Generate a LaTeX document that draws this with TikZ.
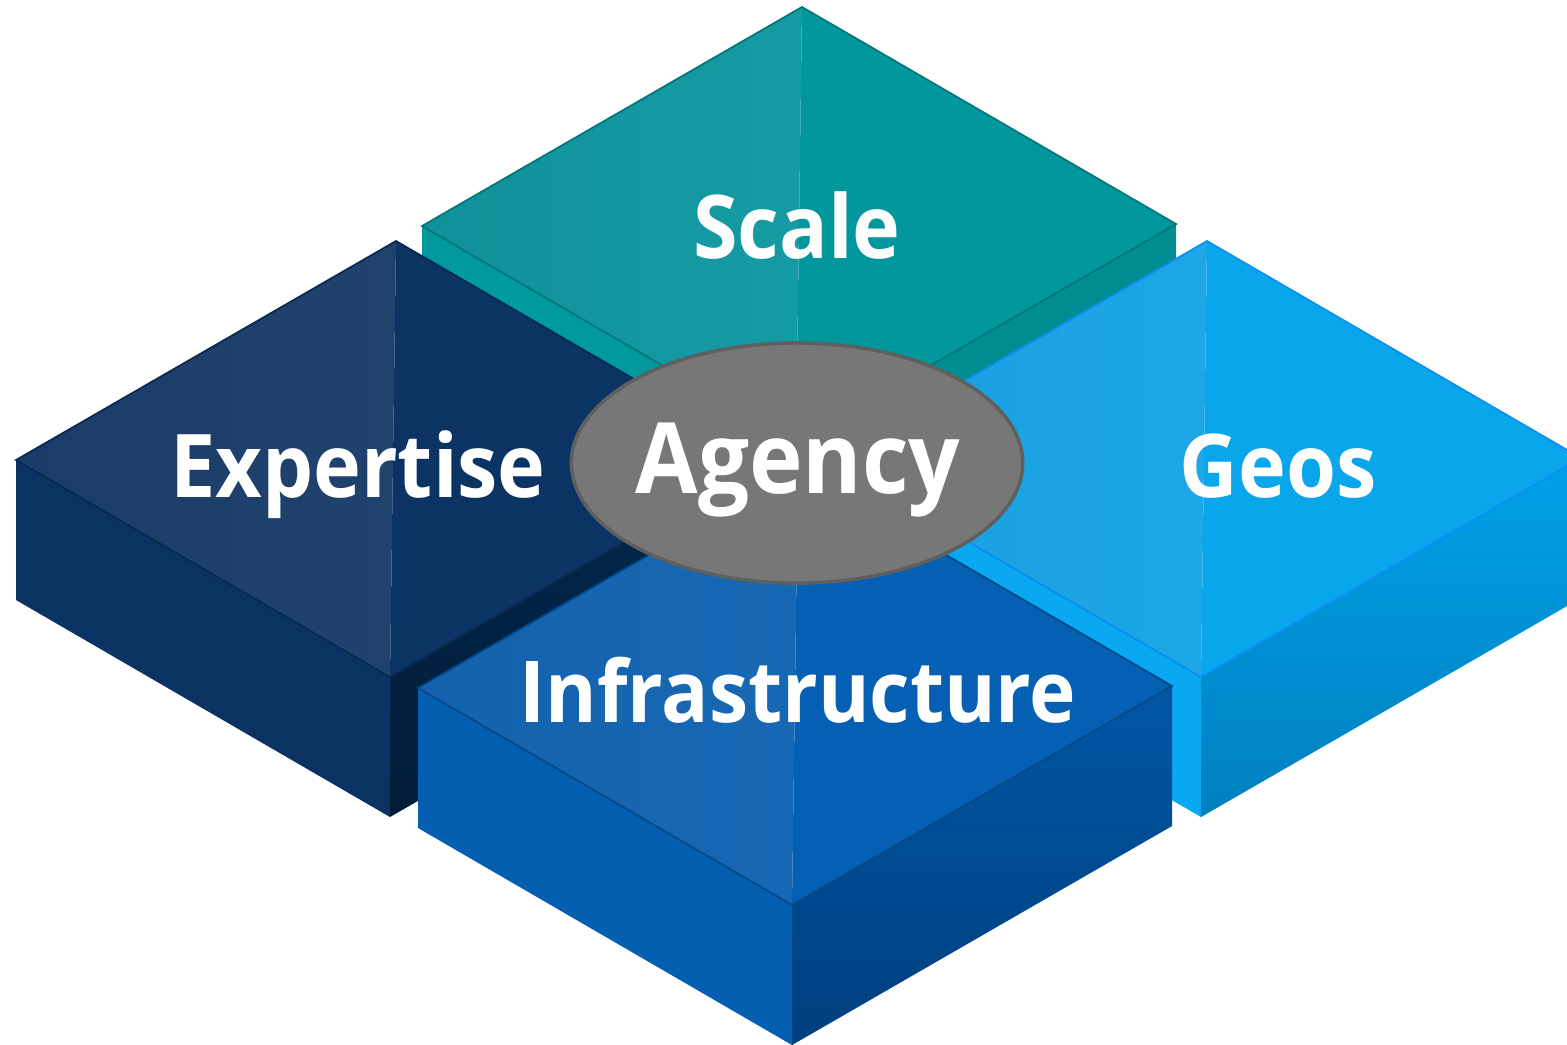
\documentclass[tikz,border=0pt]{standalone}
\usepackage{fontspec}
\setmainfont{Open Sans}[FakeStretch=0.92]
\usetikzlibrary{shapes.geometric}

% faces of the blocks
\tikzset{
  scale tl/.style={left color=scaleA, right color=scaleB},
  scale tr/.style={fill=scaleC},
  scale sl/.style={fill=scaleD},
  scale sr/.style={fill=scaleE},
  scale edge/.style={draw=scaleE!85!black},
  expertise tl/.style={left color=expA, right color=expB},
  expertise tr/.style={fill=expC},
  expertise sl/.style={fill=expD},
  expertise sr/.style={top color=expE, bottom color=expF},
  expertise edge/.style={draw=expC!80!black},
  geos tl/.style={left color=geosA, right color=geosB},
  geos tr/.style={fill=geosC},
  geos sl/.style={fill=geosD},
  geos sr/.style={top color=geosE, bottom color=geosF},
  geos edge/.style={draw=geosG},
  infra tl/.style={left color=infraA, right color=infraB},
  infra tr/.style={fill=infraC},
  infra sl/.style={fill=infraD},
  infra sr/.style={top color=infraE, bottom color=infraF},
  infra edge/.style={draw=infraE!85!black},
}

\definecolor{scaleA}{HTML}{10919B}
\definecolor{scaleB}{HTML}{159BA3}
\definecolor{scaleC}{HTML}{01979C}
\definecolor{scaleD}{HTML}{00999E}
\definecolor{scaleE}{HTML}{008C90}
\definecolor{expA}{HTML}{1A3C68}
\definecolor{expB}{HTML}{20436E}
\definecolor{expC}{HTML}{0B3464}
\definecolor{expD}{HTML}{0A3363}
\definecolor{expE}{HTML}{03284E}
\definecolor{expF}{HTML}{011C38}
\definecolor{geosA}{HTML}{1A9EDF}
\definecolor{geosB}{HTML}{1DA7E7}
\definecolor{geosC}{HTML}{0AA6EC}
\definecolor{geosD}{HTML}{0AA8F0}
\definecolor{geosE}{HTML}{00A2E8}
\definecolor{geosF}{HTML}{007FBF}
\definecolor{geosG}{HTML}{0A8FF2}
\definecolor{infraA}{HTML}{1462AE}
\definecolor{infraB}{HTML}{1768B4}
\definecolor{infraC}{HTML}{0560B3}
\definecolor{infraD}{HTML}{055FB0}
\definecolor{infraE}{HTML}{0057A4}
\definecolor{infraF}{HTML}{003F7E}
\definecolor{hubgray}{HTML}{777777}

% one block: #1,#2 centre of the top face, #3 name of its faces
\newcommand\isoblock[3]{%
  \path[#3 sl] (#1-377,#2+1) -- (#1-3,#2+218) -- (#1-3,#2+358) -- (#1-377,#2+141) -- cycle;
  \path[#3 sr] (#1-3,#2+218) -- (#1+377,#2-1) -- (#1+377,#2+139) -- (#1-3,#2+358) -- cycle;
  \path[#3 tl] (#1-377,#2+1) -- (#1+3,#2-218) -- (#1-3,#2+218) -- cycle;
  \path[#3 tr] (#1+3,#2-218) -- (#1+377,#2-1) -- (#1-3,#2+218) -- cycle;
  \path[#3 edge, line width=0.5pt] (#1-377,#2+1) -- (#1+3,#2-218) -- (#1+377,#2-1) -- (#1-3,#2+218) -- cycle;
}

\begin{document}
\begin{tikzpicture}
	[x=0.01cm, y=-0.01cm,
	 lbl/.style={text=white, font=\bfseries\fontsize{25}{30}\selectfont, inner sep=0pt, anchor=base},
	 hub/.style={ellipse, fill=hubgray, draw=hubgray!80!black, line width=1pt,
	   minimum width=4.51cm, minimum height=2.40cm, inner sep=0pt}]
	\useasboundingbox (0,0) rectangle (1567,1044);
	\isoblock{799}{225}{scale}
	\isoblock{393}{459}{expertise}
	\isoblock{1204}{459}{geos}
	\isoblock{795}{687}{infra}
	\node[hub] (agency) at (797,463) {};
	\node[lbl] (scaletext) at (797,258) {Scale};
	\node[lbl] (expertisetext) at (358,497) {Expertise};
	\node[lbl] (geostext) at (1278,497) {Geos};
	\node[lbl, font=\bfseries\fontsize{24.3}{30}\selectfont] (infratext) at (798,722) {Infrastructure};
	\node[lbl, font=\bfseries\fontsize{28}{32}\selectfont] (agencytext) at (798,493) {Agency};
\end{tikzpicture}
\end{document}
